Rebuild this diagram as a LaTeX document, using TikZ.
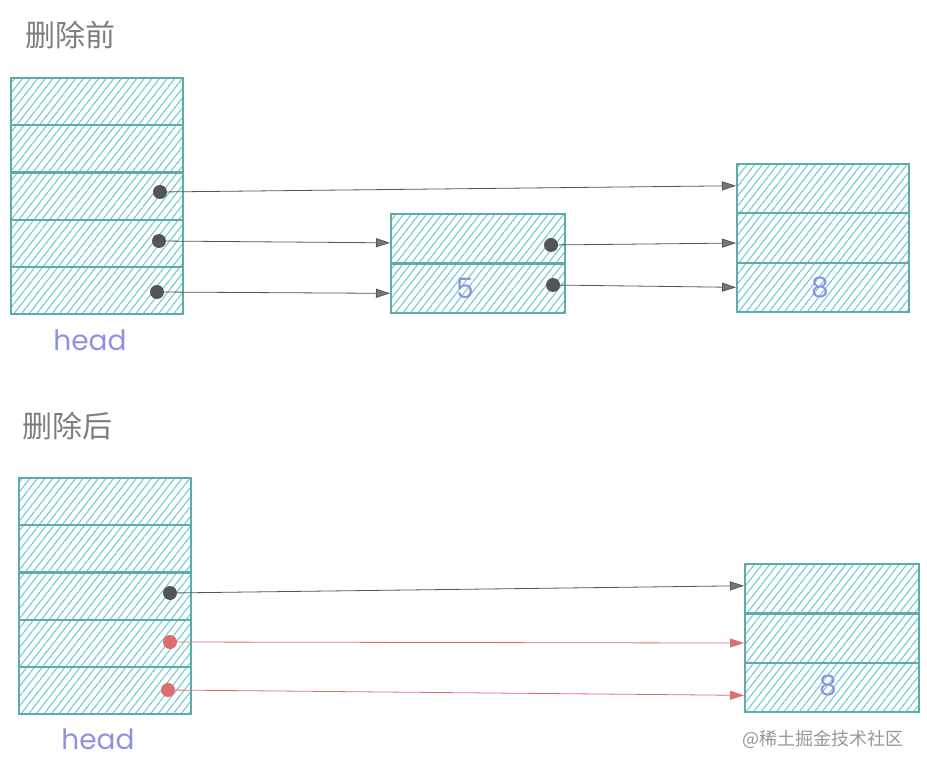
\documentclass[tikz,border=0pt]{standalone}
\usepackage{fontspec}
\setmainfont{Noto Sans}
\newfontfamily\cjk{Noto Sans CJK SC}
\newfontfamily\hand{Poppins}
\usetikzlibrary{arrows.meta,patterns.meta,positioning}
\definecolor{cellline}{RGB}{92,172,174}
\definecolor{hatch}{RGB}{110,202,204}
\definecolor{ptrgray}{RGB}{85,85,85}
\definecolor{ptrred}{RGB}{222,110,110}
\definecolor{handblue}{RGB}{140,146,225}
\definecolor{titlegray}{RGB}{125,125,125}
\begin{document}
\begin{tikzpicture}[
  x=1pt, y=-1pt,
  cell/.style={draw=cellline, line width=2.2pt, anchor=north west, inner sep=0pt,
    minimum width=172pt, minimum height=47.2pt,
    preaction={pattern={Lines[angle=52,distance=6pt,line width=1.05pt]}, pattern color=hatch}},
  dot/.style={circle, fill=ptrgray, inner sep=0pt, minimum size=14pt},
  reddot/.style={dot, fill=ptrred},
  ptr/.style={draw=ptrgray, line width=0.8pt, -{Triangle[length=14pt,width=9pt,fill=ptrgray!80]}},
  redptr/.style={draw=ptrred, line width=0.8pt, -{Triangle[length=14pt,width=9pt,fill=ptrred]}},
  title/.style={font=\cjk\fontsize{30}{30}\selectfont, text=titlegray},
  handtext/.style={font=\hand\fontsize{28}{28}\selectfont, text=handblue}
]
  \useasboundingbox (0,0) rectangle (927,770);

  % before
  \node[title] (before) at (70,35) {删除前};
  \node[cell] (h1) at (10,77) {};
  \node[cell] (h2) at (10,124.2) {};
  \node[cell] (h3) at (10,171.4) {};
  \node[cell] (h4) at (10,218.6) {};
  \node[cell] (h5) at (10,265.8) {};
  \node[handtext] (head1) at (90,340) {head};

  \node[cell, minimum width=174pt, minimum height=49.5pt] (m1) at (390,213) {};
  \node[cell, minimum width=174pt, minimum height=49.5pt] (m2) at (390,262.5) {};
  \node[handtext] (n5) at (465,288) {5};

  \node[cell, minimum height=49.3pt] (r1) at (736,163) {};
  \node[cell, minimum height=49.3pt] (r2) at (736,212.3) {};
  \node[cell, minimum height=49.3pt] (r3) at (736,261.6) {};
  \node[handtext] (n8) at (820,288) {8};

  \node[dot] (d1) at (160,192) {};
  \node[dot] (d2) at (159,241) {};
  \node[dot] (d3) at (157,292) {};
  \node[dot] (e1) at (551,245) {};
  \node[dot] (e2) at (553,285) {};

  \draw[ptr] (d1.center) -- ([yshift=3pt]r1.west);
  \draw[ptr] (d2.center) -- ([yshift=-4pt]m1.west);
  \draw[ptr] (d3.center) -- ([yshift=-5pt]m2.west);
  \draw[ptr] (e1.center) -- ([yshift=-5pt]r2.west);
  \draw[ptr] (e2.center) -- (r3.west);

  % after
  \node[title] (after) at (68,426) {删除后};
  \node[cell] (g1) at (18,477) {};
  \node[cell] (g2) at (18,524.2) {};
  \node[cell] (g3) at (18,571.4) {};
  \node[cell] (g4) at (18,618.6) {};
  \node[cell] (g5) at (18,665.8) {};
  \node[handtext] (head2) at (98,739) {head};

  \node[cell, minimum width=174pt, minimum height=49.3pt] (s1) at (744,563) {};
  \node[cell, minimum width=174pt, minimum height=49.3pt] (s2) at (744,612.3) {};
  \node[cell, minimum width=174pt, minimum height=49.3pt] (s3) at (744,661.6) {};
  \node[handtext] (m8) at (828,686) {8};

  \node[dot] (f1) at (170,593) {};
  \node[reddot] (f2) at (170,642) {};
  \node[reddot] (f3) at (168,690) {};

  \draw[ptr] (f1.center) -- ([yshift=3pt]s1.west);
  \draw[redptr] (f2.center) -- ([yshift=-5pt]s2.west);
  \draw[redptr] (f3.center) -- ([yshift=-8pt]s3.west);

  \node[font=\cjk\fontsize{18}{18}\selectfont, text=titlegray!80] (mark) at (823,739) {@稀土掘金技术社区};
\end{tikzpicture}
\end{document}
